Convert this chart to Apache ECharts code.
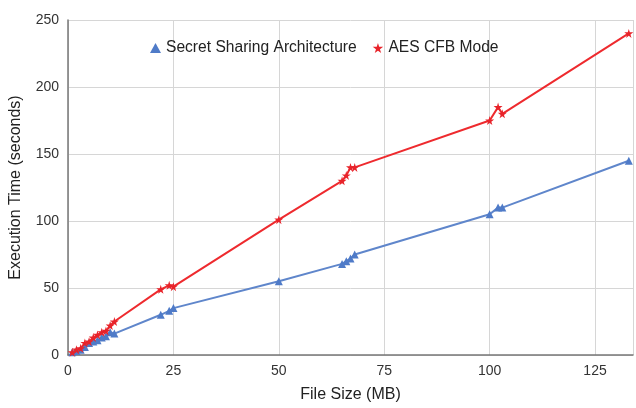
<!DOCTYPE html>
<html><head><meta charset="utf-8">
<script src="https://cdn.jsdelivr.net/npm/echarts@6/dist/echarts.min.js"></script>
<style>html,body{margin:0;padding:0;background:#fff}#c{width:636px;height:408px}</style>
</head><body><div id="c"></div>
<script>
const fileSizes = [1, 2, 3, 4, 5, 6, 7, 8, 9, 10, 11, 22, 24, 25, 50, 65, 66, 67, 68, 100, 102, 103, 133];
const secretSharing = [2, 3, 4, 6, 9, 10, 11, 13, 14, 17, 16, 30, 33, 35, 55, 68, 70, 72, 75, 105, 110, 110, 145];
const aesCfb = [2, 4, 5, 9, 10, 13, 15, 17, 18, 22, 25, 49, 52, 51, 101, 130, 134, 140, 140, 175, 185, 180, 240];
const xTicks = [0, 25, 50, 75, 100, 125];
const yTicks = [0, 50, 100, 150, 200, 250];

const star = 'path://M50,0 L61,35 L98,35 L68,57 L79,91 L50,70 L21,91 L32,57 L2,35 L39,35 Z';
const pair = (xs, ys) => xs.map((x, i) => [x, ys[i]]);

const chart = echarts.init(document.getElementById('c'));
chart.setOption({
  animation: false,
  backgroundColor: '#fff',
  textStyle: { fontFamily: 'Liberation Sans, Arial, sans-serif' },
  grid: { left: 68, top: 20, right: 0, bottom: 46, containLabel: false },
  legend: {
    top: 35, left: 145, itemGap: 16, itemWidth: 11, itemHeight: 10,
    textStyle: { fontSize: 15.6, color: '#222', fontFamily: 'Liberation Sans, Arial, sans-serif' },
    data: [
      { name: 'Secret Sharing Architecture', icon: 'triangle', itemStyle: { color: '#4f7bc8' } },
      { name: 'AES CFB Mode', icon: star, itemStyle: { color: '#e8232a' } }
    ]
  },
  xAxis: {
    type: 'value', min: 0, max: 134, interval: 25,
    name: 'File Size (MB)', nameLocation: 'middle', nameGap: 32,
    nameTextStyle: { fontSize: 16, color: '#222' },
    axisLine: { show: true, lineStyle: { color: '#777', width: 1.5 } },
    axisTick: { show: false },
    axisLabel: { fontSize: 14, color: '#333', margin: 9,
      formatter: v => xTicks.includes(v) ? String(v) : '' },
    splitLine: { show: true, lineStyle: { color: '#d6d6d6', width: 1 } }
  },
  yAxis: {
    type: 'value', min: 0, max: 250, interval: 50,
    name: 'Execution Time (seconds)', nameLocation: 'middle', nameGap: 44,
    nameTextStyle: { fontSize: 16, color: '#222' },
    axisLine: { show: true, lineStyle: { color: '#777', width: 1.5 } },
    axisTick: { show: false },
    axisLabel: { fontSize: 14, color: '#333', margin: 9,
      formatter: v => yTicks.includes(v) ? String(v) : '' },
    splitLine: { show: true, lineStyle: { color: '#d6d6d6', width: 1 } }
  },
  series: [
    {
      name: 'Secret Sharing Architecture', type: 'line',
      data: pair(fileSizes, secretSharing),
      symbol: 'triangle', symbolSize: 8,
      lineStyle: { color: '#5f86cb', width: 2 },
      itemStyle: { color: '#4f7bc8' }
    },
    {
      name: 'AES CFB Mode', type: 'line',
      data: pair(fileSizes, aesCfb),
      symbol: star, symbolSize: 9,
      lineStyle: { color: '#ee2a2e', width: 2 },
      itemStyle: { color: '#e8232a' }
    }
  ]
});
</script></body></html>
